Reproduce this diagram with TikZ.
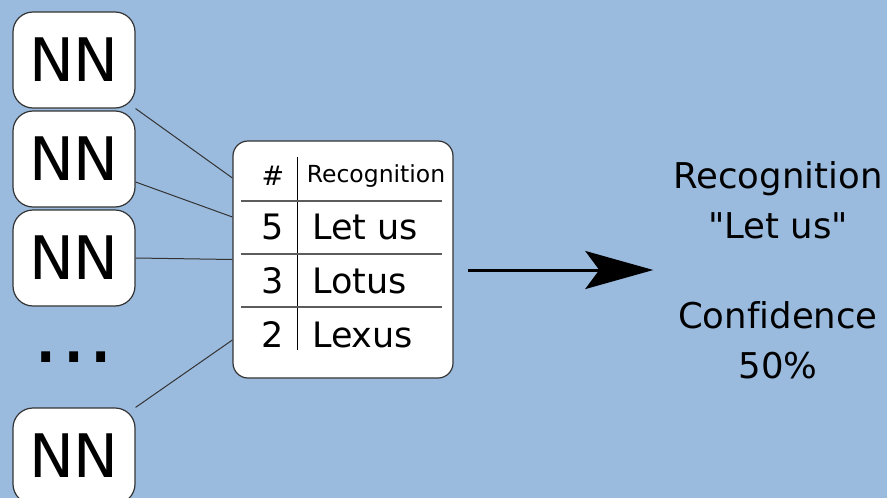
\documentclass[tikz,border=0pt]{standalone}
\usepackage{fontspec}
\setmainfont[Ligatures=NoCommon]{DejaVu Sans}
\usetikzlibrary{arrows.meta,calc}
\definecolor{bgblue}{RGB}{155,187,222}
\definecolor{edge}{RGB}{51,51,51}

\begin{document}
\begin{tikzpicture}[x=1pt, y=-1pt,
    nn/.style={rectangle, rounded corners=20pt, draw=edge, line width=1.2pt, fill=white, minimum width=122pt, minimum height=96pt, inner sep=0pt, font=\fontsize{60}{72}\selectfont},
    recbox/.style={rectangle, rounded corners=15pt, draw=edge, line width=1.2pt, fill=white, minimum width=220pt, minimum height=237pt},
    head/.style={anchor=base, inner sep=0pt, font=\fontsize{23.5}{28}\selectfont},
    num/.style={anchor=base, inner sep=0pt, font=\fontsize{35}{42}\selectfont},
    word/.style={anchor=base west, inner sep=0pt, font=\fontsize{35}{42}\selectfont},
    link/.style={line width=1pt, draw=edge},
    >={Stealth[length=68pt, width=38pt, inset=14pt]}]

    \path[use as bounding box, fill=bgblue] (0,0) rectangle (887,498);

    \node[nn] (N1) at (74,60) {NN};
    \node[nn] (N2) at (74,159) {NN};
    \node[nn] (N3) at (74,258) {NN};
    \node[inner sep=0pt, anchor=base, font=\fontsize{86}{90}\selectfont] (D) at (74,362) {...};
    \node[nn] (N5) at (74,456) {NN};

    \node[recbox] (T) at (343,259.5) {};
    \draw[line width=1pt] (297,157) -- (297,350);
    \foreach \y in {201,254,307}
        \draw[line width=1.4pt, draw=edge!80] (241,\y) -- (442,\y);

    \node[head, font=\fontsize{27}{32}\selectfont] (H1) at (273,185) {\#};
    \node[head] (H2) at (376,182) {Recognition};
    \node[num] (A1) at (273,239) {5};
    \node[word] (B1) at (312,239) {Let us};
    \node[num] (A2) at (273,293) {3};
    \node[word] (B2) at (312,293) {Lotus};
    \node[num] (A3) at (273,347) {2};
    \node[word] (B3) at (312,347) {Lexus};

    \node[align=center, inner sep=0pt, font=\fontsize{35.5}{50}\selectfont] (R) at (778,270)
        {Recognition\\\textquotedbl Let us\textquotedbl\\[40pt]Confidence\\50\%};

    \draw[link] (N1.south east) -- ([yshift=81.5pt]T.west);
    \draw[link] ([yshift=-23pt]N2.east) -- ([yshift=42.5pt]T.west);
    \draw[link] (N3.east) -- (T.west);
    \draw[link] (N5.north east) -- ([yshift=-80.5pt]T.west);

    \draw[->, line width=3pt, shorten <=14pt, shorten >=20pt] (T.east |- R.west) -- (R.west);

\end{tikzpicture}
\end{document}
